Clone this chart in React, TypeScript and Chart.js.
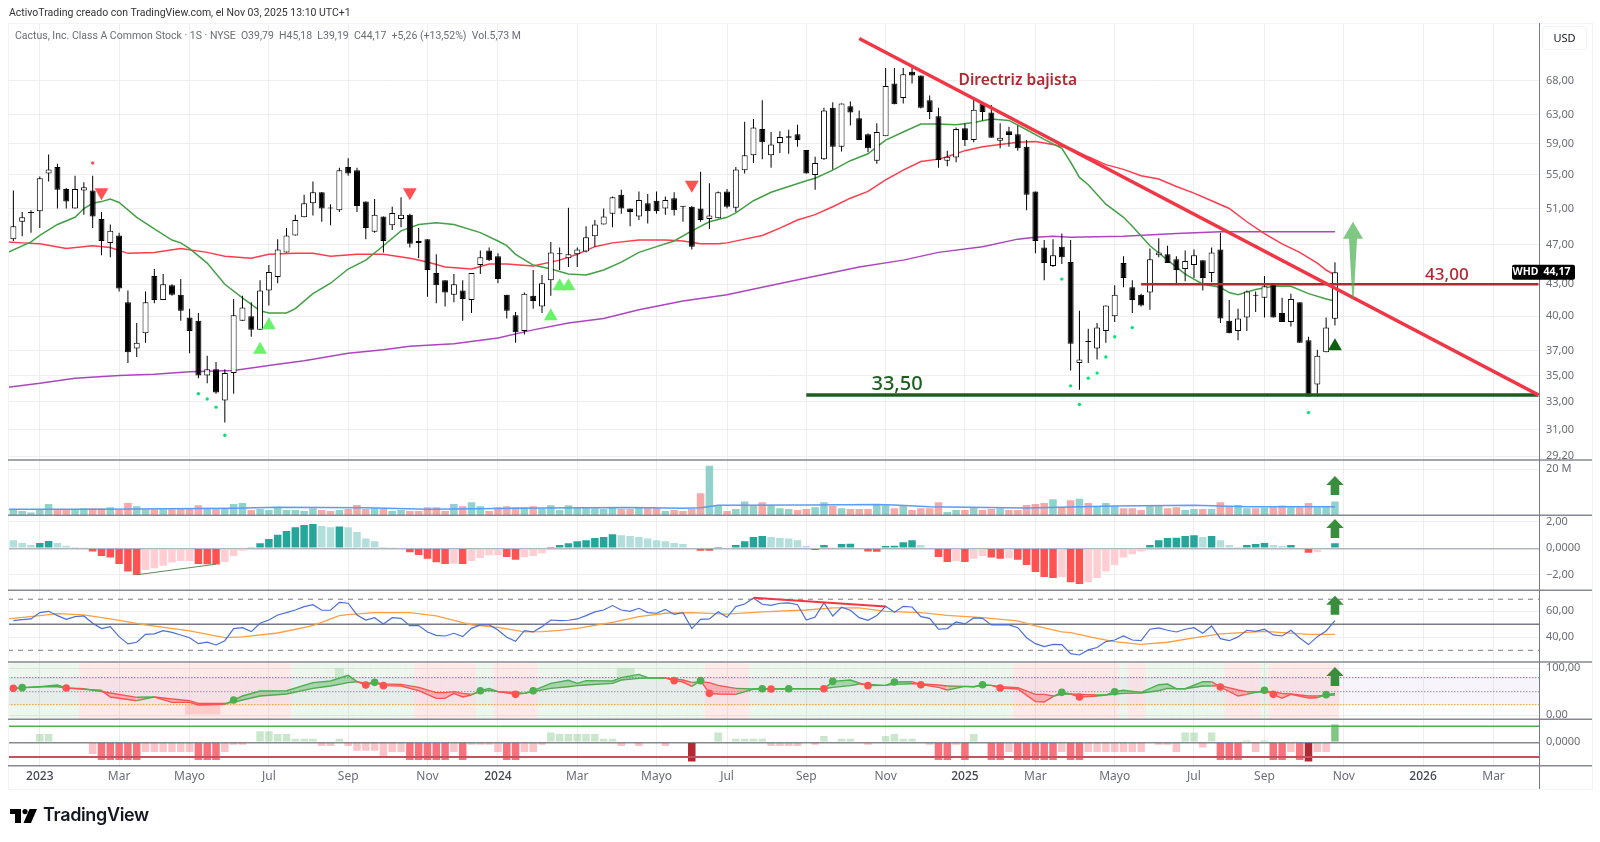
import React, { useEffect, useRef } from "react";
import { Chart, registerables } from "chart.js";

Chart.register(...registerables);

const FONT = "'Noto Sans', sans-serif";

// Weekly candles, one per bar
const opens = [47.6,49.5,50.5,50.7,55.2,56.0,53.3,51.0,53.1,53.1,49.8,47.2,48.0,41.3,37.2,38.5,43.8,41.5,42.9,42.0,39.9,39.6,35.0,35.5,33.1,35.2,39.6,40.0,38.8,42.4,43.7,46.2,48.0,50.0,51.6,52.9,51.05,50.8,56.0,55.6,51.8,48.4,50.1,49.1,49.8,50.3,47.4,47.6,44.1,43.4,42.0,42.4,41.5,44.9,46.4,45.8,42.0,40.1,38.7,41.9,40.9,43.4,46.0,45.6,46.0,46.3,47.9,49.2,50.4,52.6,51.0,50.1,51.6,51.9,51.0,52.2,51.3,51.2,51.0,49.8,49.9,53.0,51.1,55.6,57.5,61.0,57.5,59.1,59.8,60.3,58.2,55.0,57.0,64.0,58.6,64.2,62.5,60.3,56.8,60.0,67.6,65.4,69.4,68.8,65.1,62.8,56.8,57.2,61.1,59.5,64.6,63.3,59.4,60.7,60.3,58.6,53.0,46.7,44.8,46.8,45.2,36.0,37.8,37.2,38.7,40.0,45.1,42.7,42.0,42.2,45.9,46.0,45.5,44.5,44.9,45.4,44.1,46.5,39.6,38.7,39.9,42.0,41.7,43.1,40.3,39.5,41.3,37.9,34.3,36.9,39.79];
const highs = [53.1,50.6,50.8,54.8,57.6,56.4,53.4,54.9,54.1,54.9,50.6,49.2,48.3,42.4,39.4,42.3,44.5,44.0,43.0,43.5,40.7,40.3,36.6,36.1,35.5,41.6,41.9,41.3,43.4,44.9,47.6,48.8,50.3,52.6,54.2,52.9,51.5,55.9,57.1,55.9,51.8,52.1,50.1,51.2,52.3,50.4,48.8,47.6,46.0,43.4,44.0,43.4,44.1,46.4,46.7,46.1,42.0,40.4,42.2,44.4,43.9,47.3,46.7,51.1,46.7,49.0,49.7,51.0,52.4,53.2,51.0,53.0,52.7,53.0,52.4,52.9,51.3,51.3,55.4,54.0,53.0,53.3,56.0,62.0,62.4,65.1,60.6,60.7,60.9,61.6,58.2,57.3,64.0,64.8,64.6,64.9,63.6,60.4,61.8,70.0,70.0,70.0,70.2,68.8,65.8,64.0,58.1,61.2,61.8,65.4,64.6,64.4,61.8,61.3,61.5,59.5,53.0,47.5,47.6,48.2,47.5,40.5,38.9,39.4,41.0,42.9,45.8,43.4,42.1,46.6,47.7,46.9,45.8,46.4,46.5,45.4,46.7,48.3,41.5,40.7,42.4,42.3,43.8,43.1,41.7,42.1,41.3,38.2,37.1,39.9,45.18];
const lows = [47.4,47.9,48.3,48.8,54.2,51.0,51.0,51.0,50.3,48.8,45.9,45.7,42.3,36.0,36.5,37.7,41.2,41.5,41.9,39.6,36.8,34.8,34.4,33.6,31.5,33.6,39.6,38.2,38.8,41.0,43.1,46.2,48.0,50.0,50.2,49.5,49.1,50.6,54.9,50.6,47.6,48.3,46.2,48.6,48.9,46.7,45.6,41.8,41.2,40.9,41.3,39.6,40.3,44.0,45.3,43.1,39.8,37.7,38.4,40.7,40.3,41.9,44.4,44.7,44.7,46.2,46.8,49.2,48.9,50.4,49.0,49.7,49.3,50.4,50.3,50.2,49.5,46.5,49.5,48.7,49.9,51.0,50.6,55.2,56.5,57.0,55.9,57.8,57.7,58.6,55.2,53.2,56.9,55.7,58.0,61.5,59.5,57.9,56.4,60.1,64.5,64.6,67.6,63.9,62.4,55.9,56.1,56.6,58.7,59.2,62.2,59.8,58.4,58.6,58.1,50.8,46.1,43.4,44.7,45.0,35.4,33.9,36.0,36.3,37.7,39.5,42.7,40.3,40.9,40.6,45.7,45.1,43.0,43.3,43.6,42.4,43.2,39.4,38.5,37.9,38.7,40.4,39.9,39.9,39.5,39.1,37.7,33.4,33.4,36.9,39.19];
const closes = [49.0,50.0,50.6,54.6,55.7,53.2,51.8,53.3,53.5,50.1,47.4,48.5,42.6,36.9,37.7,41.3,41.5,43.0,42.0,40.5,38.7,35.0,35.5,33.7,35.2,40.1,40.8,38.8,42.4,44.2,46.5,48.0,49.7,51.6,52.9,51.0,51.0,55.6,55.2,51.3,48.8,50.3,47.4,50.5,50.3,47.1,47.2,44.4,42.9,42.2,43.0,41.6,44.1,45.7,45.4,43.5,40.5,38.6,42.1,41.4,43.1,46.2,46.05,46.0,46.5,47.8,49.2,50.1,52.3,51.0,50.6,52.0,50.7,50.7,52.0,50.8,51.2,46.8,49.7,50.2,52.9,51.2,55.7,57.5,61.2,59.2,58.9,59.9,60.0,59.5,55.2,56.5,63.6,58.6,64.6,63.3,59.5,58.4,60.6,67.2,64.5,69.0,68.8,64.0,63.4,56.9,57.3,61.0,59.5,63.7,63.4,59.8,59.8,60.2,58.4,52.6,47.4,45.1,45.9,45.7,37.6,36.3,37.75,39.0,41.0,42.0,43.6,41.5,41.0,45.5,46.2,45.1,44.4,45.3,45.9,43.6,46.2,39.8,38.5,39.8,42.3,41.9,42.8,39.9,39.5,41.6,37.7,33.4,36.6,39.0,44.17];

// Moving averages as [bar, price] readings
const fastMa = [[-0.6,46.2],[2,47.3],[3,48.0],[5,49.2],[7,50.0],[8,51.0],[9,51.6],[10,51.8],[11,52.1],[12,51.7],[14,50.0],[16,48.7],[18,47.5],[19,47.2],[20,46.6],[22,45.1],[24,43.0],[26,41.7],[28,40.5],[29,40.3],[31,40.3],[32,40.7],[34,42.1],[36,43.1],[38,44.5],[40,45.4],[42,46.9],[44,48.5],[46,49.2],[48,49.4],[50,49.2],[53,48.3],[55,47.4],[56,46.9],[57,46.0],[59,44.9],[61,44.5],[63,44.0],[65,43.9],[67,44.4],[69,45.2],[71,46.2],[73,46.8],[75,47.4],[77,48.5],[79,49.5],[81,50.0],[82,50.5],[84,51.9],[86,52.9],[88,53.6],[90,54.3],[91,54.6],[93,55.6],[95,56.8],[97,57.7],[98,58.6],[99,59.5],[101,60.6],[103,61.7],[105,61.7],[107,61.6],[109,61.9],[111,62.4],[113,62.2],[115,60.9],[117,59.6],[119,58.4],[120,56.6],[121,54.7],[122,53.8],[124,51.5],[126,50.0],[127,49.0],[129,46.9],[131,45.4],[133,44.0],[135,43.0],[137,42.7],[138,42.2],[139,42.0],[141,42.5],[143,42.8],[145,42.8],[147,42.1],[149,41.6],[150,41.4]];
const midMa = [[-0.6,47.3],[1,47.2],[3,47.1],[6,46.6],[9,46.9],[11,46.7],[13,46.1],[16,46.2],[19,46.6],[22,46.2],[24,45.8],[27,45.6],[29,46.0],[32,46.1],[34,46.1],[36,45.8],[39,46.0],[42,46.0],[45,45.6],[47,45.2],[49,44.7],[52,44.5],[54,45.0],[56,45.0],[59,44.8],[62,45.4],[64,46.0],[66,46.8],[68,47.2],[71,47.5],[74,47.5],[76,47.4],[78,47.1],[80,47.1],[81,47.2],[83,47.6],[85,48.0],[87,48.8],[89,49.7],[91,50.3],[93,51.2],[95,52.2],[97,53.0],[99,54.4],[101,55.6],[103,56.7],[105,57.0],[106,57.3],[108,58.1],[110,58.6],[112,58.9],[114,59.2],[116,59.3],[118,58.9],[120,58.4],[122,57.3],[124,56.3],[126,55.7],[128,54.9],[130,54.5],[132,53.6],[134,52.8],[136,51.9],[138,51.0],[140,49.5],[142,48.2],[144,47.1],[146,46.2],[148,45.1],[149,44.4],[150,43.9]];
const slowMa = [[-0.6,34.1],[3,34.4],[7,34.8],[12,35.0],[16,35.1],[20,35.3],[25,35.4],[30,35.9],[33,36.2],[38,36.8],[42,37.1],[45,37.4],[50,37.6],[55,38.1],[59,38.8],[63,39.4],[67,39.8],[71,40.6],[76,41.4],[81,42.0],[85,42.7],[90,43.6],[96,44.7],[101,45.4],[105,46.2],[110,46.8],[114,47.6],[116,47.8],[118,47.9],[120,47.8],[126,47.9],[132,48.2],[137,48.4],[143,48.4],[150,48.4]];

// Drawn annotations on the price pane
const trendLine = [[96,74.8],[173.1,33.5]];
const supportLine = [[90,33.5],[173.1,33.5]];
const resistanceLine = [[128,43],[173.1,43]];
const sellTriangles = [[10,52.9],[45,52.9],[77,53.8]];
const buyTriangles = [[28,37.1],[29,39.2],[61,40.0],[62,42.8],[63,42.8]];
const strongBuyTriangles = [[150,37.4]];
const redDots = [[9,56.5]];
const greenDots = [[21,33.6],[22,33.2],[23,32.6],[24,30.6],[119,43.5],[120,34.2],[121,32.8],[122,34.8],[123,35.2],[124,36.5],[125,38.2],[127,39.0],[147,32.2]];

const priceTicks = [68,63,59,55,51,47,43,40,37,35,33,31,29.2];

// Volume in millions
const volumes = [2.4,1.9,1.2,2.3,4.9,2.3,2.3,2.3,3.0,3.0,3.0,3.5,2.3,5.3,3.9,2.6,2.6,2.6,2.6,2.7,2.7,4.3,3.3,3.2,3.0,4.9,5.3,2.3,2.7,2.3,3.3,2.3,2.3,1.9,3.0,2.3,1.9,2.3,2.7,4.5,2.7,3.0,2.7,1.9,2.3,1.9,1.9,3.5,3.5,1.9,4.9,3.9,5.6,3.9,1.9,3.5,3.9,3.5,3.5,3.9,2.9,4.3,2.3,4.3,3.3,3.3,3.0,2.7,3.3,2.7,2.7,3.3,3.3,3.3,1.9,2.3,1.9,2.7,9.5,21.4,4.3,1.9,2.7,6.0,4.3,5.6,4.5,3.0,2.7,2.3,2.7,3.5,5.6,4.0,3.0,2.7,2.7,2.7,4.5,4.3,3.0,4.2,2.3,3.0,3.0,5.6,1.4,2.3,2.3,3.3,2.3,2.7,3.0,2.3,2.3,4.5,4.9,5.3,6.9,3.5,6.5,7.2,5.3,3.9,5.3,3.9,3.0,3.0,2.3,4.5,4.5,3.0,3.5,2.3,2.7,2.7,2.7,5.6,3.9,4.5,3.0,3.0,3.3,3.5,4.2,3.5,3.5,5.3,3.5,3.5,6.0];
const volumeMa = [[-0.6,2.6],[10,2.6],[25,3.0],[30,3.5],[40,3.3],[47,2.6],[60,3.2],[70,3.4],[76,3.0],[78,3.3],[80,4.3],[90,4.4],[98,4.7],[100,4.4],[104,3.7],[115,3.2],[125,4.0],[134,4.3],[140,3.7],[150,3.7]];

// MACD histogram
const macdHist = [0.6,0.4,0.25,0.4,0.55,0.4,0.2,0.1,0.05,-0.25,-0.58,-0.7,-1.18,-1.76,-2.01,-1.64,-1.5,-1.31,-1.08,-0.96,-0.95,-1.18,-1.2,-1.22,-1.03,-0.58,-0.18,0.05,0.38,0.7,1.03,1.31,1.58,1.76,1.84,1.69,1.58,1.64,1.58,1.23,0.73,0.53,0.1,0.05,-0.05,-0.3,-0.5,-0.78,-1.06,-1.18,-1.16,-1.18,-0.96,-0.73,-0.53,-0.52,-0.66,-0.86,-0.68,-0.58,-0.38,0.03,0.25,0.38,0.53,0.6,0.78,0.86,1.06,0.98,0.93,0.86,0.73,0.6,0.53,0.4,0.33,-0.05,-0.18,-0.19,0.02,0.0,0.25,0.53,0.86,0.93,0.86,0.78,0.73,0.6,0.18,-0.12,0.25,0.05,0.33,0.34,0.0,-0.25,-0.26,0.18,0.19,0.45,0.6,0.25,-0.05,-0.65,-1.03,-0.96,-1.03,-0.78,-0.58,-0.7,-0.78,-0.77,-0.86,-1.26,-1.79,-2.16,-2.24,-2.16,-2.57,-2.69,-2.57,-2.24,-1.76,-1.26,-0.7,-0.45,-0.25,0.25,0.6,0.78,0.79,0.93,0.98,0.86,0.93,0.6,0.25,0.1,0.25,0.33,0.4,0.25,0.18,0.25,0.0,-0.33,-0.3,-0.1,0.38];
const macdDivergence = [[14,-2.0],[23,-1.2]];

// RSI and its average
const rsi = [52.8,53.6,54.1,59.0,60.0,56.7,53.8,55.9,56.4,50.8,46.7,48.2,40.5,34.9,36.2,42.3,42.6,45.1,43.8,41.8,39.7,35.1,36.2,34.1,37.4,46.7,47.4,44.4,50.8,53.3,57.2,59.0,61.0,63.6,65.1,60.8,60.8,66.9,66.2,57.2,53.3,55.1,50.3,55.1,54.6,49.0,49.0,44.1,41.5,41.0,43.1,40.5,46.9,49.5,49.5,45.6,40.0,36.9,45.1,44.1,48.2,53.3,52.8,53.1,54.1,56.7,59.5,61.0,64.4,61.0,60.0,62.3,59.0,58.5,61.5,57.7,59.0,46.7,53.8,54.1,59.7,55.4,63.6,65.6,70.3,65.4,64.6,66.2,66.4,65.1,53.3,55.6,66.7,56.4,63.1,60.8,55.1,53.1,56.7,63.8,59.2,63.8,63.3,55.9,54.6,46.2,46.7,51.8,50.3,54.9,54.6,49.5,49.5,49.5,47.4,39.7,35.1,32.8,34.6,34.4,27.4,26.4,30.3,32.1,36.7,37.9,41.0,37.9,37.4,46.2,47.2,45.4,44.1,46.2,47.4,43.1,48.7,39.0,37.4,40.3,45.4,44.6,46.2,41.8,41.0,45.4,39.5,34.4,40.5,44.9,52.8];
const rsiMa = [[-0.6,54.1],[3,56.7],[5,58.2],[8,57.2],[11,54.1],[15,49.5],[20,44.9],[24,39.7],[26,40.3],[30,43.3],[34,49.0],[37,56.7],[38,57.4],[41,59.0],[45,59.0],[48,56.4],[52,49.5],[55,47.7],[58,44.1],[60,44.4],[62,45.4],[64,46.9],[68,51.5],[71,55.9],[74,58.5],[77,59.0],[81,57.9],[85,59.5],[90,61.0],[93,62.6],[96,62.6],[99,60.0],[103,59.0],[106,56.9],[110,55.1],[114,52.6],[116,48.7],[119,44.1],[120,43.6],[123,39.2],[125,36.7],[128,34.6],[131,36.2],[134,39.5],[137,42.6],[142,44.6],[147,42.3],[150,42.3]];
const rsiDivergence = [[84,70.5],[99,63.6]];

// Oscillator pane: fast and slow lines read at the same bars
const oscBars = [0,1,3,5,6,8,10,11,14,16,18,20,21,24,25,26,28,31,34,36,38,39,40,41,42,44,46,48,49,50,51,52,53,54,55,57,58,59,61,63,64,65,68,69,71,72,74,75,76,77,78,79,80,82,84,85,86,88,90,92,93,95,96,97,99,100,102,103,105,106,108,109,110,111,112,114,116,117,118,119,120,121,123,124,125,126,128,130,131,132,133,135,136,137,139,140,142,143,144,145,147,148,149,150];
const oscFast = [57.1,58.6,60.7,64.3,57.9,55,52.9,38.6,30.7,38.6,27.1,27.1,21.4,22.9,32.1,40.7,51.4,52.1,69.3,72.9,85,71.4,64.3,70,62.9,62.1,52.1,35.7,35.7,46.4,38.6,42.9,52.1,57.1,50,44.3,46.4,52.1,67.9,74.3,67.9,73.6,72.9,80,87.1,80,79.3,73.6,70.7,61.4,73.6,46.4,45,44.3,55.7,56.4,55.7,56.4,56.4,56.4,72.1,75,68.6,62.9,63.6,70.7,71.4,65.0,59.3,53.6,61.4,60.7,65,63.6,57.9,55.7,28.6,27.9,39.3,48.6,45,38.6,40.7,42.9,50,52.9,48.6,65,66.4,56.4,56.4,71.4,71.4,60,40.7,44.3,52.9,44.3,35.7,44.3,36.4,37.1,43.6,46.4];
const oscSlow = [57.1,58.1,60.7,60.7,57.9,56.4,50.5,47.1,37.9,38.6,34.3,30.7,25,25,27.1,32.1,40.7,45,57.1,62.1,69.3,71.4,67.9,70,66.4,65.7,59.3,47.9,47.9,50,46.4,44.3,50,53,50,48.6,46.4,50,57.1,60.7,62.9,64.3,67.9,75,78.6,79.3,79.3,77.1,75,70,71.4,69.3,63.6,57.1,55.7,56.4,55.7,56.4,56.4,56.4,59.3,62.9,66.4,65.7,63.6,65.7,67.1,66.4,64.3,62.1,61.4,60.7,63.6,63.6,60.7,58.6,44.3,44.3,40.7,44.3,45,44.3,42.9,42.9,45,46.4,47.1,52.1,57.1,56.4,56.4,62.1,62.1,62.9,53.6,50,49.3,49.3,46.4,45,40.7,40.7,42.2,42.9];
const oscBuyDots = [1,25,41,53,59,78,85,88,93,100,110,119,125,142,149];
const oscSellDots = [0,6,40,42,57,75,79,86,92,97,103,112,121,137,143];
const oscGreenRanges = [[0,7],[32,45],[53,54],[60,78],[84,113],[126,126],[129,137],[142,142]];
const oscPinkRanges = [[8,31],[46,52],[55,59],[79,83],[114,125],[127,128],[138,141],[143,150]];
const oscLowBars = [20,21,22,23];
const oscHighBars = [37,69,70];

// Bottom histogram
const lastBars = [0,0,0,0.52,0.52,0,0,0,0,-0.73,-1.1,-1.1,-1.1,-1.1,-1.1,-0.6,-0.6,-0.6,-0.6,-0.6,-0.6,-1.1,-1.1,-1.1,-0.6,-0.15,-0.15,0,0.7,0.7,0.52,0.52,0.23,0.23,0.23,-0.23,-0.23,0.23,-0.23,-0.52,-0.52,-0.52,-0.9,-0.6,-0.6,-1.1,-1.1,-1.1,-1.1,-1.1,-0.6,-1.1,-0.15,-0.15,-0.15,-0.6,-1.1,-1.1,-0.6,-0.6,-0.15,0.62,0.52,0.52,0.52,0.52,0.52,0.23,0.23,-0.23,0,-0.23,0,0,-0.23,0,0,-1.2,0,0,0.62,0,0.23,0.23,0.23,0.23,-0.23,-0.23,-0.23,-0.23,0,-0.15,0.4,0,0.23,0.23,0,-0.15,0,0.4,0.52,0.23,0.23,0,-0.15,-1.1,-1.1,-0.15,-1.1,0.52,0,-1.1,-1.1,-0.6,-1.1,-1.1,-1.1,-1.1,-1.1,-0.6,-1.1,-1.1,-0.6,-0.6,-0.6,-0.6,-0.6,-0.6,-0.6,0,-0.15,-0.15,-0.6,0.62,0.62,-0.33,0.62,-1.1,-1.1,-1.1,0.13,-0.6,0.13,-1.1,-1.1,-0.6,-1.1,-1.2,-0.6,-0.6,1.12];

// Axis ticks
const xTickBars = [3,12,20,29,38,47,55,64,73,81,90,99,108,116,125,134,142,151,160,168];
const xTickLabels = ["2023","Mar","Mayo","Jul","Sep","Nov","2024","Mar","Mayo","Jul","Sep","Nov","2025","Mar","Mayo","Jul","Sep","Nov","2026","Mar"];
const xYears = ["2023","2024","2025","2026"];
const volTicks = [20];
const macdTicks = [2,0,-2];
const rsiTicks = [60,40];
const oscTicks = [100,0];
const lastTicks = [0];

const bars = opens.map((_, i) => i);
const XMIN = -0.61;
const XMAX = 173.16;

const pts = (list: number[][]) => list.map(([x, y]) => ({ x, y }));
const span = (y: number) => [{ x: XMIN, y }, { x: XMAX, y }];
const comma = (v: number, d = 2) => v.toFixed(d).replace(".", ",");

function lineDs(data: any[], yAxisID: string, color: string, width: number, order: number, extra: any = {}) {
  return { type: "line", data, yAxisID, xAxisID: "x", borderColor: color, borderWidth: width, pointRadius: 0, fill: false, tension: 0, order, ...extra };
}

function markerDs(data: any[], yAxisID: string, style: string, color: string, radius: number, rotation = 0) {
  return { type: "line", showLine: false, data, yAxisID, xAxisID: "x", pointStyle: style, pointRadius: radius, pointRotation: rotation, pointBackgroundColor: color, pointBorderWidth: 0, order: -1 };
}

function barDs(data: any[], yAxisID: string, color: any, thickness: number, order: number, extra: any = {}) {
  return { type: "bar", data, yAxisID, xAxisID: "x", backgroundColor: color, barThickness: thickness, grouped: false, borderSkipped: false, inflateAmount: 0, order, ...extra };
}

function rangesToBars(ranges: number[][], low: number, high: number) {
  const out: any[] = [];
  ranges.forEach(([a, b]) => {
    for (let i = a; i <= b; i++) out.push({ x: i, y: [low, high] });
  });
  return out;
}

function macdColor(v: number, i: number) {
  const prev = i > 0 ? macdHist[i - 1] : v;
  if (v >= 0) return v >= prev && i > 0 ? "#26a69a" : "#b2dfdb";
  return v <= prev ? "#ff5252" : "#ffcdd2";
}

function lastColor(v: number) {
  if (v > 1) return "rgba(76,175,80,0.7)";
  if (v > 0) return "rgba(76,175,80,0.3)";
  if (v < -1.15) return "#b22833";
  if (v <= -1) return "rgba(242,54,69,0.7)";
  return "rgba(242,54,69,0.3)";
}

const oscColor = (ctx: any) =>
  oscFast[ctx.p1DataIndex] >= oscSlow[ctx.p1DataIndex] ? "#4caf50" : "#ff5252";

const oscAt = (i: number) => oscFast[oscBars.indexOf(i)];

function paneScale(weight: number, stackWeight: number, min: number, max: number, ticks: number[], format: (v: number) => string, zeroColor?: string) {
  return {
    type: "linear",
    position: "right",
    stack: "panes",
    weight,
    stackWeight,
    min,
    max,
    afterBuildTicks: (s: any) => { s.ticks = ticks.map((value) => ({ value })); },
    afterFit: (s: any) => { s.width = 53; },
    grid: {
      color: (c: any) => (zeroColor && c.tick && c.tick.value === 0 ? zeroColor : "#eeeeee"),
      lineWidth: (c: any) => (zeroColor && c.tick && c.tick.value === 0 ? 1.5 : 1),
      drawTicks: false,
    },
    border: { color: "#787b86" },
    ticks: { callback: format, color: "#6a6d78", font: { family: FONT, size: 11 }, padding: 7, autoSkip: false, maxRotation: 0 },
  };
}

function drawArrow(ctx: any, x: number, top: number, bottom: number, headW: number, headH: number, stemTop: number, stemBottom: number, color: string) {
  ctx.fillStyle = color;
  ctx.beginPath();
  ctx.moveTo(x, top);
  ctx.lineTo(x + headW / 2, top + headH);
  ctx.lineTo(x + stemTop / 2, top + headH);
  ctx.lineTo(x + stemBottom / 2, bottom);
  ctx.lineTo(x - stemBottom / 2, bottom);
  ctx.lineTo(x - stemTop / 2, top + headH);
  ctx.lineTo(x - headW / 2, top + headH);
  ctx.closePath();
  ctx.fill();
}

const overlayPlugin = {
  id: "overlay",
  afterDraw(chart: any) {
    const { ctx, scales } = chart;
    const x = scales.x;
    const main = scales.yMain;
    const right = chart.chartArea.right;
    ctx.save();

    // pane separators and frame
    ctx.strokeStyle = "#f0f3fa";
    ctx.lineWidth = 1;
    ctx.strokeRect(8.5, 23.5, 1584, 766);
    ctx.strokeStyle = "#868993";
    ctx.lineWidth = 1.5;
    ["yMain", "yVol", "yMacd", "yRsi", "yOsc", "yLast"].forEach((id) => {
      ctx.beginPath();
      ctx.moveTo(8, scales[id].bottom);
      ctx.lineTo(1592, scales[id].bottom);
      ctx.stroke();
    });
    ctx.strokeStyle = "#787b86";
    ctx.lineWidth = 1;
    ctx.beginPath();
    ctx.moveTo(right + 0.5, 23);
    ctx.lineTo(right + 0.5, 789);
    ctx.stroke();

    // arrows
    drawArrow(ctx, x.getPixelForValue(152.05), main.getPixelForValue(49.5), main.getPixelForValue(41.7), 20, 17, 8, 1.5, "rgba(76,175,80,0.7)");
    const h = 19;
    [["yVol", 17], ["yMacd", 2.21], ["yRsi", 72], ["yOsc", 102.9]].forEach(([id, v]: any) => {
      const top = scales[id].getPixelForValue(v);
      drawArrow(ctx, x.getPixelForValue(150), top, top + h, 17.5, 9, 8.6, 8.6, "#388e3c");
    });

    // drawn labels
    ctx.textAlign = "center";
    ctx.textBaseline = "middle";
    ctx.fillStyle = "#b22833";
    ctx.font = `600 15.5px ${FONT}`;
    ctx.fillText("Directriz bajista", x.getPixelForValue(114), main.getPixelForValue(68.1));
    ctx.font = `500 17px ${FONT}`;
    ctx.fillText("43,00", x.getPixelForValue(162.7), main.getPixelForValue(43.9));
    ctx.fillStyle = "#1b5e20";
    ctx.font = `500 20px ${FONT}`;
    ctx.fillText("33,50", x.getPixelForValue(100.3), main.getPixelForValue(34.35));

    // last price tag
    const last = closes[closes.length - 1];
    const ty = main.getPixelForValue(last);
    ctx.fillStyle = "#000000";
    ctx.beginPath();
    ctx.roundRect(right - 27, ty - 7.5, 63, 15, 2);
    ctx.fill();
    ctx.fillStyle = "#ffffff";
    ctx.font = `700 10.5px ${FONT}`;
    ctx.fillText("WHD", right - 13.5, ty);
    ctx.fillText(comma(last), right + 18, ty);
    ctx.restore();
  },
};

export default function App() {
  const canvasRef = useRef<HTMLCanvasElement | null>(null);

  useEffect(() => {
    if (!canvasRef.current) return;

    const candleUp = bars.map((i) => closes[i] >= opens[i]);

    const chart = new Chart(canvasRef.current, {
      type: "bar",
      data: {
        datasets: [
          // price pane
          lineDs(pts(trendLine), "yMain", "#f23645", 3.5, 0),
          lineDs(pts(resistanceLine), "yMain", "#b22833", 2.5, 0),
          lineDs(pts(supportLine), "yMain", "#1b5e20", 3.5, 0),
          markerDs(pts(sellTriangles), "yMain", "triangle", "#ff5252", 8, 180),
          markerDs(pts(buyTriangles), "yMain", "triangle", "#69f36b", 8),
          markerDs(pts(strongBuyTriangles), "yMain", "triangle", "#0d5f10", 8),
          markerDs(pts(redDots), "yMain", "circle", "#ff5252", 1.7),
          markerDs(pts(greenDots), "yMain", "circle", "#00e676", 1.7),
          barDs(bars.map((i) => ({ x: i, y: [opens[i], closes[i]] })), "yMain", candleUp.map((u) => (u ? "#ffffff" : "#000000")), 6, 1, { borderColor: "#000000", borderWidth: 1, minBarLength: 1 }),
          barDs(bars.map((i) => ({ x: i, y: [lows[i], highs[i]] })), "yMain", "#000000", 1, 2),
          lineDs(pts(fastMa), "yMain", "#43a047", 1.5, 5),
          lineDs(pts(midMa), "yMain", "#ff3b4e", 1.5, 5),
          lineDs(pts(slowMa), "yMain", "#ab47bc", 1.5, 5),

          // volume pane
          lineDs(pts(volumeMa), "yVol", "#5b9cf6", 1.5, 1),
          barDs(bars.map((i) => ({ x: i, y: volumes[i] })), "yVol", candleUp.map((u) => (u ? "rgba(38,166,154,0.5)" : "rgba(239,83,80,0.5)")), 7.5, 2),

          // macd pane
          lineDs(pts(macdDivergence), "yMacd", "#5c8a5c", 1, 1),
          barDs(bars.map((i) => ({ x: i, y: macdHist[i] })), "yMacd", macdHist.map(macdColor), 7.5, 2),

          // rsi pane
          lineDs(pts(rsiDivergence), "yRsi", "#f23645", 2, 0),
          lineDs(bars.map((i) => ({ x: i, y: rsi[i] })), "yRsi", "#4a6fd8", 1.2, 1),
          lineDs(pts(rsiMa), "yRsi", "#ff9f40", 1.3, 2),
          lineDs(span(50), "yRsi", "#787b86", 1.5, 3),
          lineDs(span(69.3), "yRsi", "#787b86", 1, 3, { borderDash: [5, 5] }),
          lineDs(span(30), "yRsi", "#787b86", 1, 3, { borderDash: [5, 5] }),

          // oscillator pane
          markerDs(oscBuyDots.map((i) => ({ x: i, y: oscAt(i) })), "yOsc", "circle", "#4caf50", 3.8),
          markerDs(oscSellDots.map((i) => ({ x: i, y: oscAt(i) })), "yOsc", "circle", "#ff5252", 3.8),
          lineDs(oscBars.map((x, k) => ({ x, y: oscFast[k] })), "yOsc", "#4caf50", 1.4, 1, {
            fill: { target: "+1", above: "rgba(76,175,80,0.4)", below: "rgba(255,82,82,0.35)" },
            segment: { borderColor: oscColor },
          }),
          lineDs(oscBars.map((x, k) => ({ x, y: oscSlow[k] })), "yOsc", "#4caf50", 1.4, 1, { segment: { borderColor: oscColor } }),
          lineDs(span(80), "yOsc", "#26a69a", 1, 3, { borderDash: [1.5, 1.5], fill: { target: { value: 22 }, above: "rgba(126,87,194,0.06)" } }),
          lineDs(span(50), "yOsc", "#9598a1", 1, 3, { borderDash: [1.5, 1.5] }),
          lineDs(span(22), "yOsc", "#ff9800", 1, 3, { borderDash: [1.5, 1.5] }),
          barDs(oscHighBars.map((i) => ({ x: i, y: [80, 100] })), "yOsc", "rgba(76,175,80,0.2)", 8.9, 6),
          barDs(oscLowBars.map((i) => ({ x: i, y: [0, 22] })), "yOsc", "rgba(255,82,82,0.2)", 8.9, 6),
          barDs(rangesToBars(oscGreenRanges, -8, 110.7), "yOsc", "rgba(76,175,80,0.1)", 8.9, 7),
          barDs(rangesToBars(oscPinkRanges, -8, 110.7), "yOsc", "rgba(255,82,82,0.12)", 8.9, 7),

          // bottom pane
          lineDs(span(1), "yLast", "#4caf50", 1.5, 1),
          lineDs(span(-0.92), "yLast", "#c8505c", 2, 1),
          barDs(bars.filter((i) => lastBars[i] !== 0).map((i) => ({ x: i, y: lastBars[i] })), "yLast", bars.filter((i) => lastBars[i] !== 0).map((i) => lastColor(lastBars[i])), 7.5, 2),
        ] as any,
      },
      options: {
        responsive: false,
        animation: false,
        devicePixelRatio: 1,
        events: [],
        layout: { padding: { left: 8, top: 23, right: 8, bottom: 53 } },
        plugins: { legend: { display: false }, tooltip: { enabled: false } },
        scales: {
          x: {
            type: "linear",
            offset: false,
            min: XMIN,
            max: XMAX,
            afterBuildTicks: (s: any) => { s.ticks = xTickBars.map((value) => ({ value })); },
            afterFit: (s: any) => { s.height = 23.3; },
            grid: { color: "#eeeeee", drawTicks: false, offset: false },
            border: { color: "#868993" },
            ticks: {
              callback: (_: any, i: number) => xTickLabels[i],
              autoSkip: false,
              maxRotation: 0,
              padding: 4,
              color: (c: any) => (xYears.includes(xTickLabels[c.index]) ? "#434651" : "#6a6d78"),
              font: (c: any) => ({ family: FONT, size: 12, weight: xYears.includes(xTickLabels[c.index]) ? "500" : "400" }),
            },
          },
          yMain: {
            type: "logarithmic",
            position: "right",
            stack: "panes",
            weight: 1,
            stackWeight: 437,
            min: 28.94,
            max: 77.46,
            afterBuildTicks: (s: any) => { s.ticks = priceTicks.map((value) => ({ value })); },
            afterFit: (s: any) => { s.width = 53; },
            grid: { color: "#eeeeee", drawTicks: false },
            border: { color: "#787b86" },
            ticks: { callback: (v: any) => comma(Number(v)), color: "#6a6d78", font: { family: FONT, size: 11 }, padding: 7, autoSkip: false, maxRotation: 0 },
          },
          yVol: paneScale(2, 55.3, 0, 23.9, volTicks, (v) => `${v} M`),
          yMacd: paneScale(3, 75, -3.17, 2.49, macdTicks, (v) => (v === 0 ? "0,0000" : comma(v).replace("-", "\u2212")), "#b2b5be"),
          yRsi: paneScale(4, 71.7, 21, 76.15, rsiTicks, (v) => comma(v)),
          yOsc: paneScale(5, 57.3, -9.2, 113.6, oscTicks, (v) => comma(v)),
          yLast: paneScale(6, 46.4, -1.46, 1.44, lastTicks, () => "0,0000", "#868993"),
        } as any,
      },
      plugins: [overlayPlugin],
    } as any);

    return () => chart.destroy();
  }, []);

  return (
    <div style={{ position: "fixed", left: 0, top: 0, width: 1600, height: 842, background: "#ffffff", overflow: "hidden", fontFamily: FONT }}>
      <canvas ref={canvasRef} width={1600} height={842} style={{ position: "absolute", left: 0, top: 0 }} />
      <div style={{ position: "absolute", left: 9, top: 6, fontFamily: "Roboto, sans-serif", fontSize: 10.5, color: "#333333", whiteSpace: "nowrap" }}>
        ActivoTrading creado con TradingView.com, el Nov 03, 2025 13:10 UTC+1
      </div>
      <div style={{ position: "absolute", left: 15, top: 29, fontFamily: "Roboto, sans-serif", fontSize: 10.5, color: "#6a6d78", whiteSpace: "pre" }}>
        {"Cactus, Inc. Class A Common Stock · 1S · NYSE  O39,79  H45,18  L39,19  C44,17  +5,26 (+13,52%)  Vol.5,73 M"}
      </div>
      <div style={{ position: "absolute", left: 1542, top: 26, width: 45, height: 24, boxSizing: "border-box", border: "1px solid #f0f3fa", borderRadius: 4, fontSize: 11, color: "#131722", textAlign: "center", lineHeight: "22px" }}>
        USD
      </div>
      <svg style={{ position: "absolute", left: 10, top: 809 }} width={27} height={14} viewBox="0 0 27 14">
        <path d="M0 0H11V14H5V5H0Z M19.5 0H27L21 14H13.5Z" fill="#000000" />
        <circle cx="15" cy="2.6" r="2.6" fill="#000000" />
      </svg>
      <div style={{ position: "absolute", left: 43, top: 804, fontFamily: "Inter, sans-serif", fontSize: 18, fontWeight: 600, color: "#131722", whiteSpace: "nowrap", letterSpacing: -0.35 }}>
        TradingView
      </div>
    </div>
  );
}
